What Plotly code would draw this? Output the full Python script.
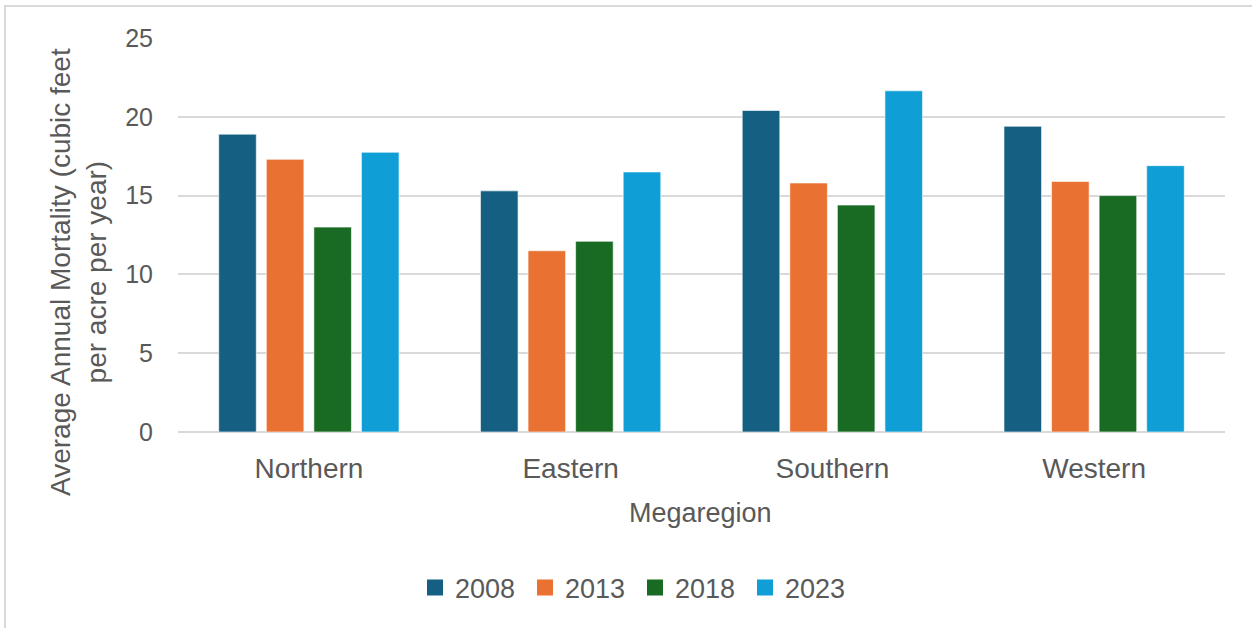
import plotly.graph_objects as go

regions = ["Northern", "Eastern", "Southern", "Western"]
years = ["2008", "2013", "2018", "2023"]
v2008 = [18.9, 15.3, 20.4, 19.4]
v2013 = [17.3, 11.5, 15.8, 15.9]
v2018 = [13.0, 12.1, 14.4, 15.0]
v2023 = [17.75, 16.5, 21.65, 16.9]
series = [v2008, v2013, v2018, v2023]
colors = ["#156082", "#E97132", "#196B24", "#0F9ED5"]

W, H = 1252, 628
L, R, T, B = 178, 27, 38, 196
pw, ph = W - L - R, H - T - B

def px(x):
    return (x - L) / pw

def py(y):
    return (H - B - y) / ph

FONT = "Liberation Sans, Arial, sans-serif"
GRAY = "#595959"

fig = go.Figure()
for yr, vals, c in zip(years, series, colors):
    fig.add_trace(go.Bar(x=regions, y=vals, name=yr, marker_color=c,
                         marker_line=dict(color="rgba(255,255,255,0.6)", width=1),
                         showlegend=False))
for yr, c in zip(years, colors):
    fig.add_trace(go.Scatter(x=[None], y=[None], mode="markers", name=yr,
                             marker=dict(symbol="square", size=16, color=c)))

fig.update_layout(
    width=W, height=H,
    margin=dict(l=L, r=R, t=T, b=B, autoexpand=False),
    paper_bgcolor="white", plot_bgcolor="white",
    barmode="group", bargap=0.273, bargroupgap=0.21,
    font=dict(family=FONT, size=25, color=GRAY),
    showlegend=True,
    legend=dict(orientation="h", x=px(635), xanchor="center", y=py(588), yanchor="middle",
                font=dict(size=27, color=GRAY), entrywidth=65, itemwidth=30,
                bgcolor="rgba(0,0,0,0)"),
    xaxis=dict(showgrid=False, showline=False, ticks="", tickfont=dict(size=28, color=GRAY),
               ticklabelstandoff=17, fixedrange=True),
    yaxis=dict(range=[0, 25], dtick=5, showgrid=True, gridcolor="#d9d9d9", gridwidth=1.5,
               zeroline=True, zerolinecolor="#d9d9d9", zerolinewidth=1.5,
               showline=False, ticks="", tickfont=dict(size=25, color=GRAY),
               ticklabelstandoff=24, fixedrange=True),
)

fig.add_annotation(text="Average Annual Mortality (cubic feet<br>per acre per year)",
                   xref="paper", yref="paper", x=px(78), y=py(272),
                   xanchor="center", yanchor="middle", textangle=-90, showarrow=False,
                   font=dict(size=28, color=GRAY, family=FONT))
fig.add_annotation(text="Megaregion", xref="paper", yref="paper", x=px(700), y=py(513),
                   xanchor="center", yanchor="middle", showarrow=False,
                   font=dict(size=27, color=GRAY, family=FONT))

fig.add_shape(type="rect", xref="paper", yref="paper",
              x0=px(5), x1=px(1270), y0=py(660), y1=py(6),
              line=dict(color="#d9d9d9", width=2), layer="below")

fig.write_html("out.html", config={"displayModeBar": False},
               post_script="document.body.style.margin='0px';")
